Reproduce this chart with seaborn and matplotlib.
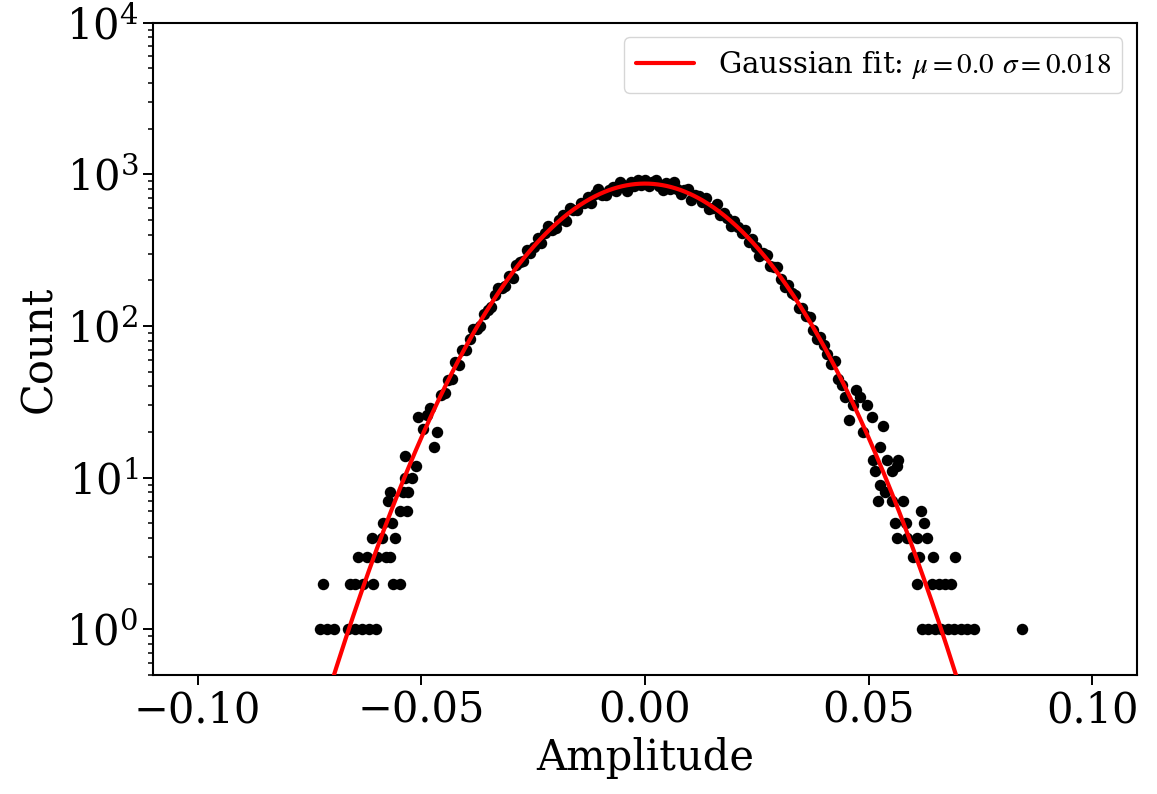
import numpy as np
import pandas as pd
import matplotlib
matplotlib.use("Agg")
import matplotlib.pyplot as plt
import seaborn as sns

# ---------------- data ----------------
# histogram core: bin centres start / width and counts
core_start = -0.0496
core_step = 0.0008
core_counts = [
    21, 26, 29, 16, 20, 35, 36, 44, 45, 58, 55,
    70, 70, 82, 96, 95, 100, 121, 128, 134, 161,
    179, 177, 183, 215, 206, 252, 263, 270, 318, 303,
    332, 378, 352, 412, 458, 433, 442, 499, 537, 493,
    601, 585, 583, 649, 644, 713, 647, 747, 798, 733,
    729, 788, 826, 782, 887, 851, 778, 892, 838, 915, 857,
    919,
    833, 891, 923, 844, 789, 875, 806, 885, 803, 744,
    794, 797, 674, 727, 725, 656, 699, 596, 600, 634,
    538, 554, 515, 457, 495, 452, 411, 428, 357, 373,
    332, 290, 305, 293, 249, 245, 244, 203, 180, 187,
    165, 161, 132, 132, 116, 115, 94, 82, 85, 75, 65,
    56, 59, 45, 41, 34, 24, 30, 38, 34, 20, 30,
]

# left tail points (amplitude, count)
left_tail_x = [
    -0.0508, -0.0536, -0.0512, -0.0521, -0.0536, -0.0570, -0.0540, -0.0530,
    -0.0575, -0.0548, -0.0532, -0.0586, -0.0566, -0.0611, -0.0588, -0.0559,
    -0.0642, -0.0622, -0.0600, -0.0580, -0.0570,
    -0.0720, -0.0660, -0.0648, -0.0630, -0.0609, -0.0564, -0.0548,
    -0.0727, -0.0711, -0.0696, -0.0664, -0.0649, -0.0633, -0.0617, -0.0602,
]
left_tail_count = [
    25, 14, 12, 10, 10, 8, 8, 8,
    7, 6, 6, 5, 5, 4, 4, 4,
    3, 3, 3, 3, 3,
    2, 2, 2, 2, 2, 2, 2,
    1, 1, 1, 1, 1, 1, 1, 1,
]

# right tail points (amplitude, count)
right_tail_x = [
    0.0508, 0.0532, 0.0526, 0.0510, 0.0541, 0.0566, 0.0563, 0.0515, 0.0553,
    0.0526, 0.0537, 0.0521, 0.0553, 0.0577, 0.0618, 0.0624, 0.0559, 0.0584,
    0.0564, 0.0586, 0.0608, 0.0631,
    0.0600, 0.0613, 0.0644, 0.0694,
    0.0608, 0.0642, 0.0657, 0.0671, 0.0684,
    0.0620, 0.0633, 0.0648, 0.0662, 0.0677, 0.0691, 0.0706, 0.0720, 0.0736,
    0.0843,
]
right_tail_count = [
    25, 22, 16, 13, 13, 13, 12, 11, 11,
    9, 8, 7, 7, 7, 6, 5, 5, 5,
    4, 4, 4, 4,
    3, 3, 3, 3,
    2, 2, 2, 2, 2,
    1, 1, 1, 1, 1, 1, 1, 1, 1,
    1,
]

# Gaussian fit parameters
fit_mu = 0.0
fit_sigma = 0.018
fit_amp = 870.0

x_ticks = [-0.10, -0.05, 0.00, 0.05, 0.10]

# ---------------- build frame ----------------
core_x = core_start + core_step * np.arange(len(core_counts))
df = pd.DataFrame({
    "Amplitude": np.concatenate([core_x, left_tail_x, right_tail_x]),
    "Count": np.concatenate([core_counts, left_tail_count, right_tail_count]).astype(float),
})
xf = np.linspace(-0.075, 0.075, 600)
fit_df = pd.DataFrame({
    "Amplitude": xf,
    "Count": fit_amp * np.exp(-(xf - fit_mu) ** 2 / (2 * fit_sigma ** 2)),
})

# ---------------- style ----------------
sns.set_style("ticks")
plt.rcParams["font.family"] = ["DejaVu Serif"]
plt.rcParams["mathtext.fontset"] = "stix"
for key in ["text.color", "axes.labelcolor", "xtick.color", "ytick.color",
            "axes.edgecolor"]:
    plt.rcParams[key] = "black"
plt.rcParams["axes.linewidth"] = 1.5
plt.rcParams["xtick.major.size"] = 7
plt.rcParams["ytick.major.size"] = 7
plt.rcParams["xtick.major.width"] = 1.4
plt.rcParams["ytick.major.width"] = 1.4
plt.rcParams["ytick.minor.size"] = 3.5
plt.rcParams["ytick.minor.width"] = 1.1

fig = plt.figure(figsize=(11.57, 7.94), dpi=100)
ax = fig.add_axes([0.1322, 0.1499, 0.8505, 0.8214])

sns.scatterplot(data=df, x="Amplitude", y="Count", ax=ax, color="black",
                s=68, linewidth=0, zorder=2, legend=False)
sns.lineplot(data=fit_df, x="Amplitude", y="Count", ax=ax, color="red",
             linewidth=3, zorder=3,
             label=r"Gaussian fit: $\mu=0.0$ $\sigma=0.018$")

ax.set_yscale("log")
ax.set_ylim(0.5, 1e4)
ax.set_xlim(-0.11, 0.11)
ax.set_xticks(x_ticks)
ax.set_xticklabels([f"{t:.2f}".replace("-", "\u2212") for t in x_ticks])
ax.tick_params(axis="both", labelsize=30, direction="out")
ax.set_xlabel("Amplitude", fontsize=30)
ax.set_ylabel("Count", fontsize=30)
for sp in ax.spines.values():
    sp.set_visible(True)

leg = ax.legend(loc="upper right", fontsize=21, frameon=True, handlelength=2.0,
                borderaxespad=0.5)
for t in leg.get_texts():
    t.set_color("black")

fig.savefig("out.png", dpi=100)
